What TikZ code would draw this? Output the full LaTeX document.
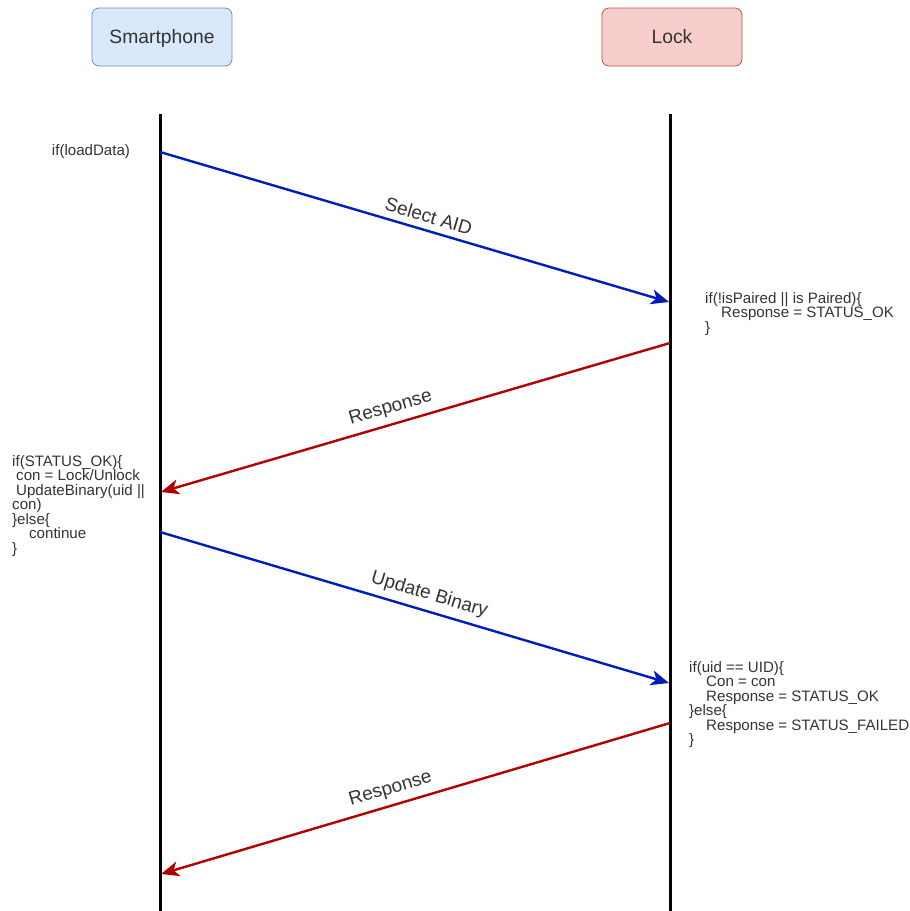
\documentclass[tikz,border=0pt]{standalone}
\usepackage{fontspec}
\setmainfont{Liberation Sans}
\usepackage{tikz}
\usetikzlibrary{arrows.meta}
\definecolor{phonefill}{HTML}{DAE8FC}
\definecolor{phonedraw}{HTML}{6C8EBF}
\definecolor{lockfill}{HTML}{F8CECC}
\definecolor{lockdraw}{HTML}{B85450}
\definecolor{reqblue}{HTML}{001DBC}
\definecolor{respred}{HTML}{B20000}
\definecolor{txtgray}{HTML}{333333}

\begin{document}
\begin{tikzpicture}[x=1pt,y=-1pt,
  party/.style={draw,rounded corners=7pt,minimum width=140pt,minimum height=58pt,line width=0.8pt,text=txtgray,text height=13.8pt,text depth=0pt,font=\fontsize{19.3}{22}\selectfont},
  lifeline/.style={line width=3pt},
  request/.style={draw=reqblue,line width=2.4pt,-{Stealth[length=18pt,width=15pt,inset=5pt]}},
  reply/.style={draw=respred,line width=2.4pt,-{Stealth[length=18pt,width=15pt,inset=5pt]}},
  msglabel/.style={sloped,above=3pt,text=txtgray,font=\fontsize{19}{22}\selectfont},
  codetext/.style={align=left,anchor=north west,inner sep=0pt,text=txtgray,font=\fontsize{15.1}{14.5}\selectfont}]
\useasboundingbox (0,0) rectangle (910,911);

% participants
\node[party,fill=phonefill,draw=phonedraw] (phone) at (162,37) {Smartphone};
\node[party,fill=lockfill,draw=lockdraw] (lock) at (672,37) {Lock};

% lifelines
\coordinate (phoneTop) at (160,114);
\coordinate (phoneBot) at (160,911);
\coordinate (lockTop) at (670,114);
\coordinate (lockBot) at (670,911);
\draw[lifeline] (phoneTop) -- (phoneBot);
\draw[lifeline] (lockTop) -- (lockBot);

% message ends on the lifelines
\coordinate (selOut) at (160,152);
\coordinate (selIn) at (669,302);
\coordinate (resOut) at (670,343);
\coordinate (resIn) at (161,492);
\coordinate (updOut) at (160,532);
\coordinate (updIn) at (669,683);
\coordinate (finOut) at (670,723);
\coordinate (finIn) at (161,874);

\draw[request] (selOut) -- (selIn) node[msglabel,pos=0.52] {Select AID};
\draw[reply] (resOut) -- (resIn) node[msglabel,pos=0.54] {Response};
\draw[request] (updOut) -- (updIn) node[msglabel,pos=0.52] {Update Binary};
\draw[reply] (finOut) -- (finIn) node[msglabel,pos=0.54] {Response};

% code notes
\node[text=txtgray,font=\fontsize{15.1}{14.5}\selectfont] (load) at (91,152) {if(loadData)};
\node[codetext] (pairNote) at (705,292) {if(!isPaired || is Paired)\{\\
  \hspace*{16pt}Response = STATUS\_OK\\
  \}};
\node[codetext] (statusNote) at (12,455) {if(STATUS\_OK)\{\\
  \hspace*{4pt}con = Lock/Unlock\\
  \hspace*{4pt}UpdateBinary(uid ||\\
  con)\\
  \}else\{\\
  \hspace*{17pt}continue\\
  \}};
\node[codetext] (uidNote) at (689,661) {if(uid == UID)\{\\
  \hspace*{17pt}Con = con\\
  \hspace*{17pt}Response = STATUS\_OK\\
  \}else\{\\
  \hspace*{17pt}Response = STATUS\_FAILED\\
  \}};
\end{tikzpicture}
\end{document}
